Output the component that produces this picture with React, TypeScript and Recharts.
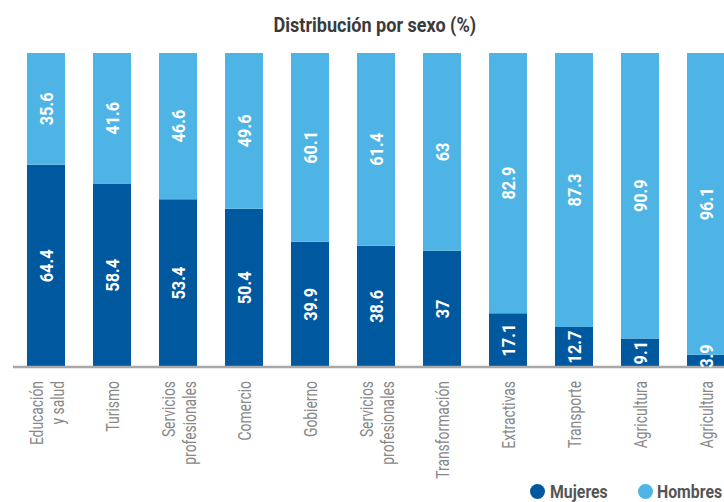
import React from 'react';
import { BarChart, Bar, XAxis, YAxis, LabelList } from 'recharts';

const title = 'Distribución por sexo (%)';
const categories = [
  'Educación\ny salud',
  'Turismo',
  'Servicios\nprofesionales',
  'Comercio',
  'Gobierno',
  'Servicios\nprofesionales',
  'Transformación',
  'Extractivas',
  'Transporte',
  'Agricultura',
  'Agricultura',
];
const mujeres = [64.4, 58.4, 53.4, 50.4, 39.9, 38.6, 37, 17.1, 12.7, 9.1, 3.9];
const hombres = [35.6, 41.6, 46.6, 49.6, 60.1, 61.4, 63, 82.9, 87.3, 90.9, 96.1];
const seriesNames = ['Mujeres', 'Hombres'];
const colors = ['#00589E', '#4EB4E5'];

const data = categories.map((c, i) => ({
  id: 'c' + i,
  label: c,
  mujeres: mujeres[i],
  hombres: hombres[i],
}));

const FONT = 'Roboto, "Noto Sans", sans-serif';

const AxisTick = (props: any) => {
  const { x, y, payload } = props;
  const row = data.find((d) => d.id === payload.value);
  if (!row) return null;
  const lines = row.label.split('\n');
  const fs = 18;
  const lh = 21;
  const base = x + fs * 0.36 - ((lines.length - 1) * lh) / 2 + 1;
  return (
    <text
      transform={`translate(${base},${y + 14}) rotate(-90) scale(0.77,1)`}
      textAnchor="end"
      fontSize={fs}
      fill="#888888"
      fontFamily={FONT}
    >
      {lines.map((l: string, i: number) => (
        <tspan key={i} x={0} dy={i === 0 ? 0 : lh}>
          {l}
        </tspan>
      ))}
    </text>
  );
};

const ValueLabel = (props: any) => {
  const vb = props.viewBox || {};
  const x = props.x ?? vb.x;
  const y = props.y ?? vb.y;
  const width = props.width ?? vb.width;
  const height = props.height ?? vb.height;
  const s = String(props.value);
  const fs = 19;
  const sx = 0.86;
  const len = [...s].reduce((a, ch) => a + (ch === '.' ? 0.27 : 0.56), 0) * fs * sx;
  const cx = x + width / 2;
  let cy = y + height / 2;
  const bottom = y + height;
  if (cy + len / 2 > bottom + 0.5) cy = bottom + 0.5 - len / 2;
  return (
    <text
      transform={`translate(${cx + fs * 0.36},${cy}) rotate(-90) scale(${sx},1)`}
      textAnchor="middle"
      fontSize={fs}
      fontWeight={700}
      fill="#ffffff"
      fontFamily={FONT}
    >
      {s}
    </text>
  );
};

const legendPos = [
  { cx: 537.5, tx: 550 },
  { cx: 645.5, tx: 657 },
];

export default function App() {
  return (
    <div
      style={{
        position: 'absolute',
        left: 0,
        top: 0,
        width: 724,
        height: 502,
        overflow: 'hidden',
        background: '#ffffff',
      }}
    >
      <div
        style={{
          position: 'absolute',
          left: 0,
          top: 15,
          width: 750,
          textAlign: 'center',
          fontFamily: FONT,
          fontWeight: 700,
          fontSize: 21,
          lineHeight: '20px',
          color: '#3b3b3b',
          whiteSpace: 'nowrap',
        }}
      >
        <span style={{ display: 'inline-block', transform: 'scaleX(0.86)' }}>{title}</span>
      </div>
      <div style={{ position: 'absolute', left: 0, top: 0 }}>
        <BarChart
          width={740}
          height={502}
          data={data}
          margin={{ top: 53, right: 1, bottom: 30, left: 13 }}
          barSize={38}
        >
          <YAxis hide domain={[0, 100]} type="number" />
          <XAxis
            dataKey="id"
            height={105}
            tickSize={0}
            tickMargin={0}
            tickLine={false}
            axisLine={{ stroke: '#a9a9a9', strokeWidth: 2.5 }}
            tick={<AxisTick />}
            interval={0}
          />
          <Bar dataKey="mujeres" stackId="a" fill={colors[0]} isAnimationActive={false}>
            <LabelList dataKey="mujeres" content={<ValueLabel />} />
          </Bar>
          <Bar dataKey="hombres" stackId="a" fill={colors[1]} isAnimationActive={false}>
            <LabelList dataKey="hombres" content={<ValueLabel />} />
          </Bar>
        </BarChart>
      </div>
      {seriesNames.map((n, i) => (
        <React.Fragment key={n}>
          <div
            style={{
              position: 'absolute',
              left: legendPos[i].cx - 7.5,
              top: 491 - 7.5,
              width: 15,
              height: 15,
              borderRadius: '50%',
              background: colors[i],
            }}
          />
          <div
            style={{
              position: 'absolute',
              left: legendPos[i].tx,
              top: 483,
              fontFamily: FONT,
              fontWeight: 700,
              fontSize: 18,
              lineHeight: '18px',
              color: '#555555',
              whiteSpace: 'nowrap',
              transform: 'scaleX(0.88)',
              transformOrigin: 'left center',
            }}
          >
            {n}
          </div>
        </React.Fragment>
      ))}
    </div>
  );
}
